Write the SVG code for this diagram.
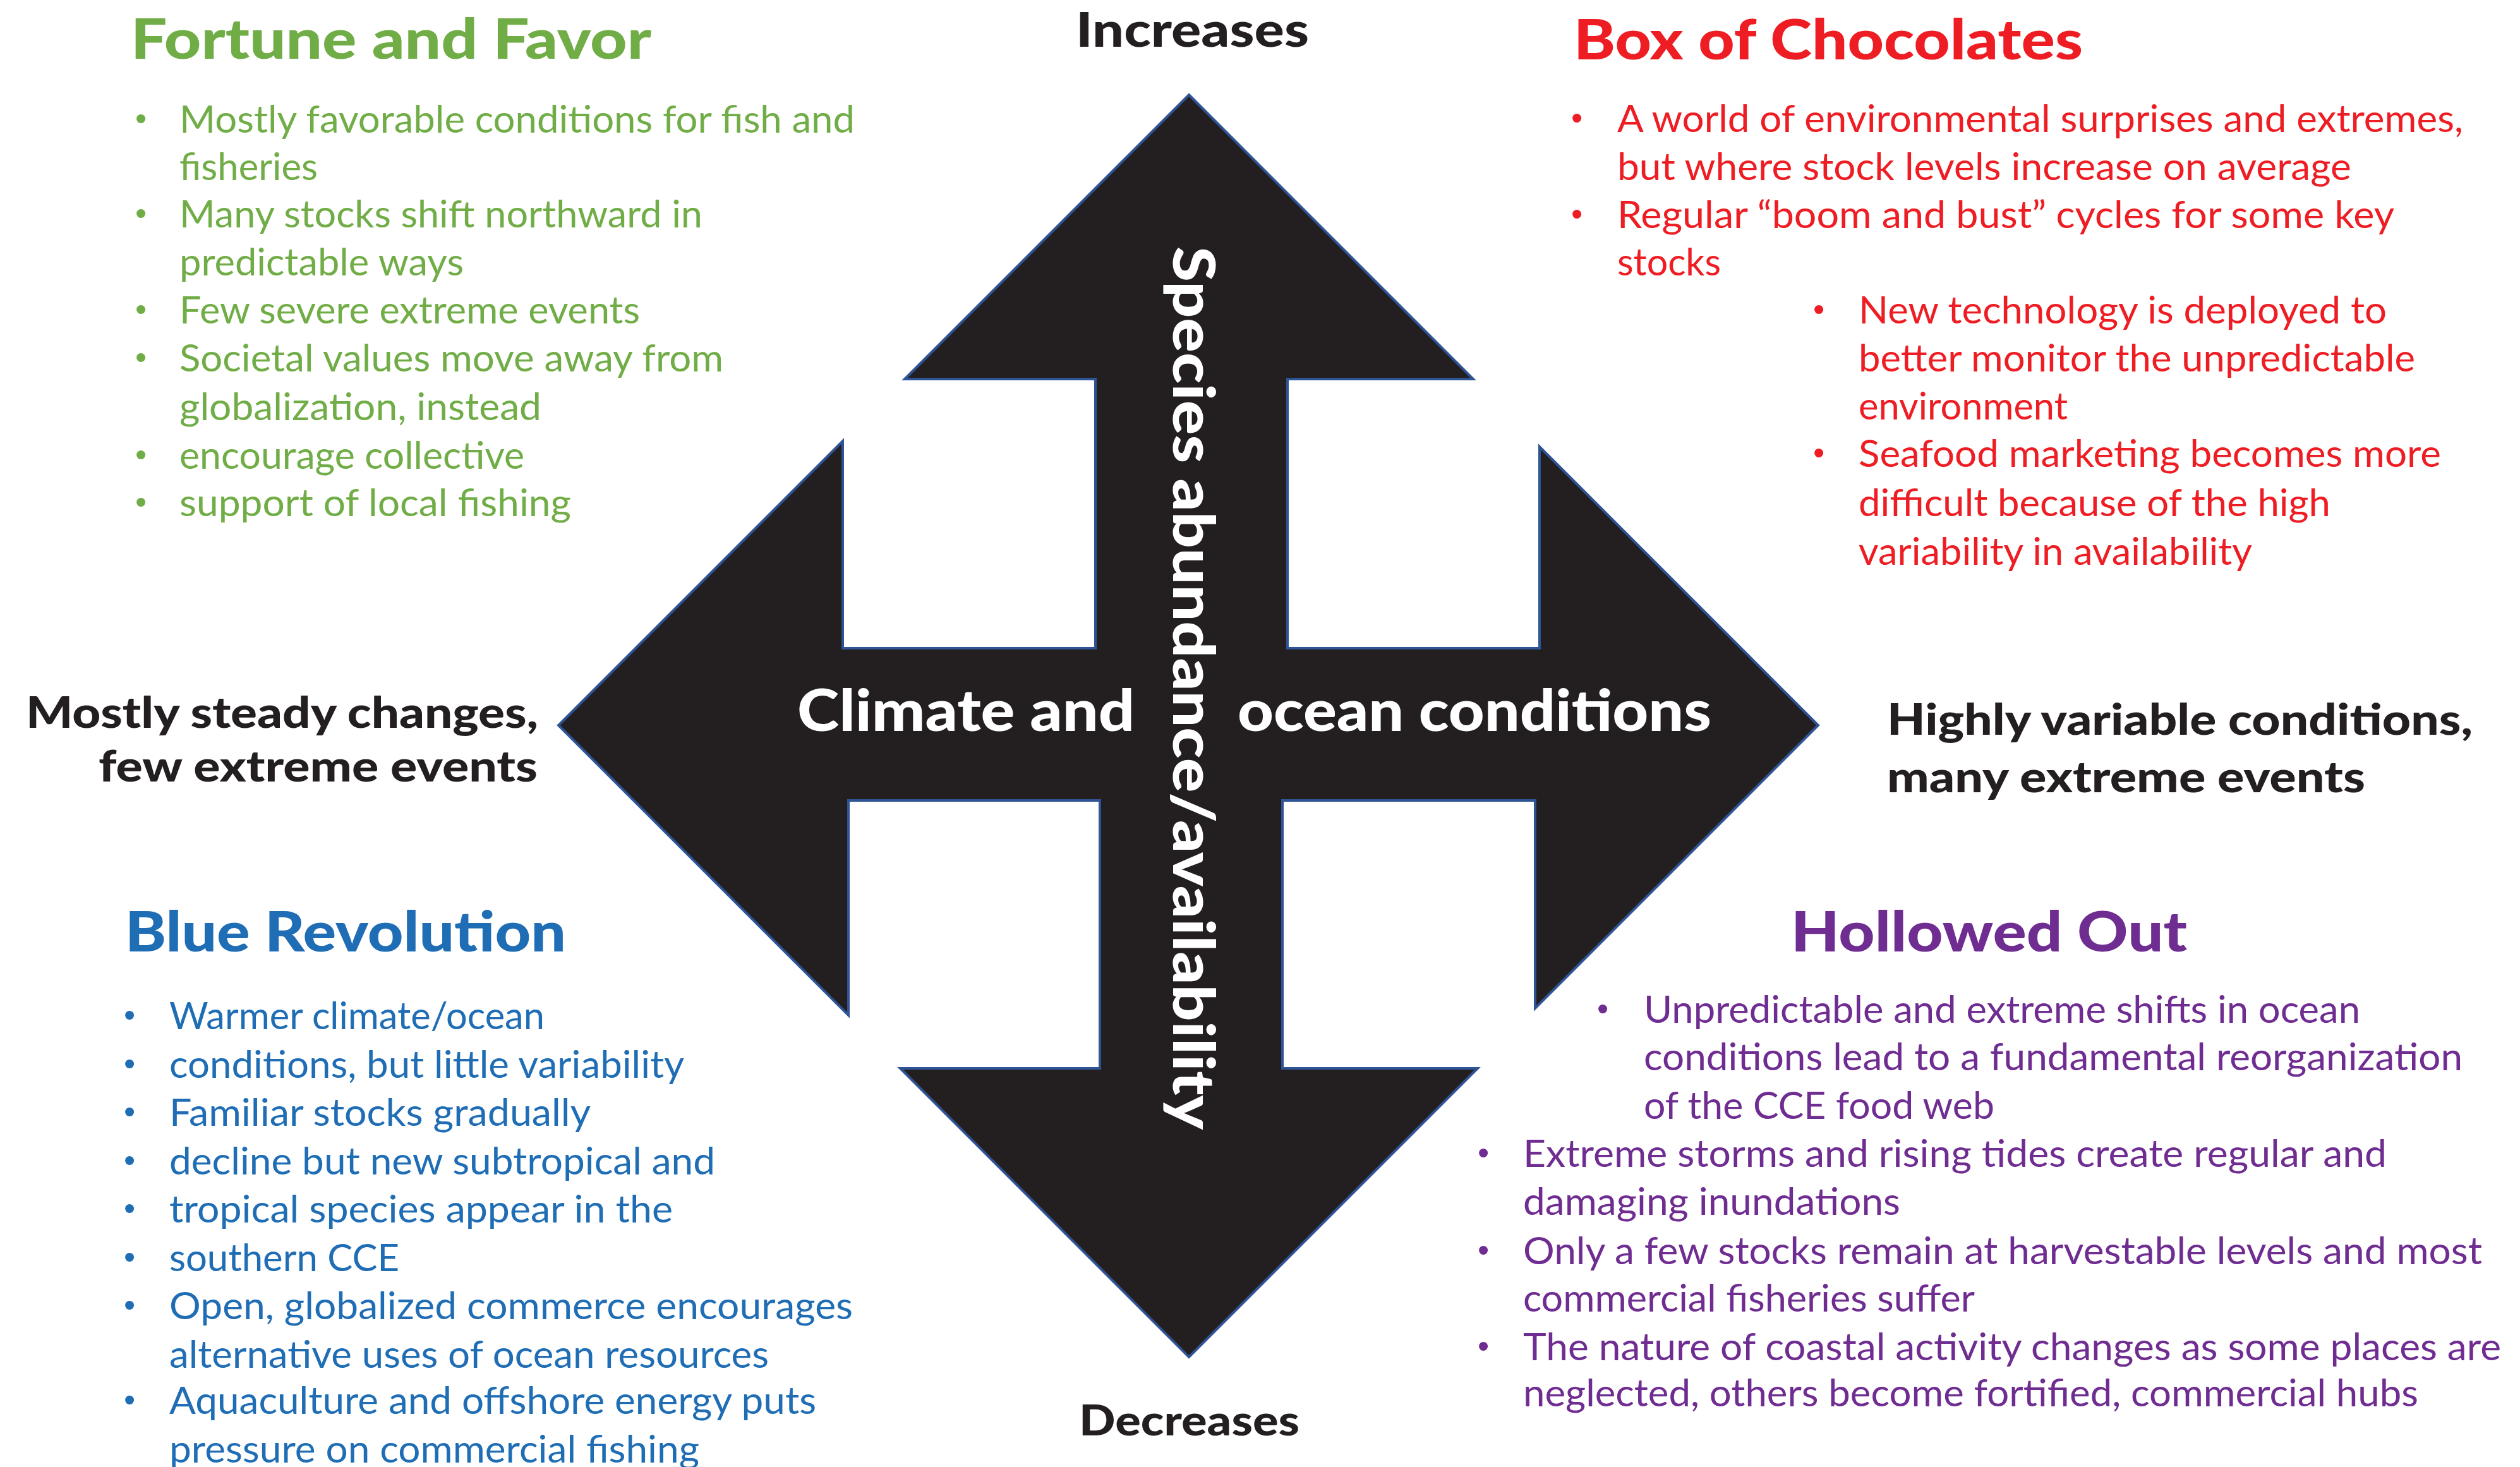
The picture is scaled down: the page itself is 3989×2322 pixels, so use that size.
<svg xmlns="http://www.w3.org/2000/svg" width="3989" height="2322" viewBox="0 0 3989 2322">
<style>
.bg{fill:#ffffff}
.arrow{fill:#231F20;stroke:#2F5496;stroke-width:4;stroke-linejoin:miter}
.title{font-family:Lato,"Open Sans","Liberation Sans",sans-serif;font-weight:900;font-size:88px}
.body{font-family:Lato,"Open Sans","Liberation Sans",sans-serif;font-weight:400;font-size:60px}
.blt{font-family:"Liberation Sans",sans-serif;font-size:52px;text-anchor:middle}
.lbl{font-family:Lato,"Open Sans","Liberation Sans",sans-serif;font-weight:900;fill:#231F20}
.inner{font-family:Lato,"Open Sans","Liberation Sans",sans-serif;font-weight:900;fill:#ffffff;font-size:92px}
.green{fill:#71AD47}
.red{fill:#EE1D23}
.blue{fill:#1F6DB4}
.purple{fill:#6F2C91}
</style>
<rect class="bg" x="0" y="0" width="3989" height="2322"/>

<g id="cross-arrow">
<polygon class="arrow" points="1882,150 2332,600 2038,600 2038,1026 2437,1026 2437,707 2878,1148 2430,1596 2430,1267 2030,1267 2030,1691 2339,1691 1882,2148 1425,1691 1741,1691 1741,1267 1343,1267 1343,1607 884,1148 1334,698 1334,1026 1734,1026 1734,600 1432,600"/>
<text class="inner" x="1262" y="1157" textLength="534" lengthAdjust="spacingAndGlyphs">Climate and</text>
<text class="inner" x="1959" y="1157" textLength="750" lengthAdjust="spacingAndGlyphs">ocean conditions</text>
<text class="inner" transform="translate(1857,390) rotate(90)" x="0" y="0" textLength="1398" lengthAdjust="spacingAndGlyphs">Species abundance/availability</text>
</g>

<g id="axis-labels">
<text id="label-increases" class="lbl" x="1703" y="74" font-size="76" textLength="369" lengthAdjust="spacingAndGlyphs">Increases</text>
<text id="label-decreases" class="lbl" x="1708" y="2272" font-size="66" textLength="349" lengthAdjust="spacingAndGlyphs">Decreases</text>
<g id="label-left">
<text class="lbl" x="41" y="1152" font-size="68" textLength="811" lengthAdjust="spacingAndGlyphs">Mostly steady changes,</text>
<text class="lbl" x="156" y="1237" font-size="68" textLength="695" lengthAdjust="spacingAndGlyphs">few extreme events</text>
</g>
<g id="label-right">
<text class="lbl" x="2987" y="1163" font-size="68" textLength="927" lengthAdjust="spacingAndGlyphs">Highly variable conditions,</text>
<text class="lbl" x="2987" y="1254" font-size="68" textLength="757" lengthAdjust="spacingAndGlyphs">many extreme events</text>
</g>
</g>

<g id="fortune-and-favor" class="green">
<text class="title" x="207" y="93" textLength="824" lengthAdjust="spacingAndGlyphs">Fortune and Favor</text>
<g class="blt">
<text x="223" y="205">•</text><text x="223" y="355">•</text><text x="223" y="507">•</text><text x="223" y="583">•</text><text x="223" y="737">•</text><text x="223" y="812">•</text>
</g>
<g class="body">
<text x="284" y="210" textLength="1069" lengthAdjust="spacingAndGlyphs">Mostly favorable conditions for fish and</text>
<text x="284" y="285" textLength="219" lengthAdjust="spacingAndGlyphs">fisheries</text>
<text x="284" y="360" textLength="828" lengthAdjust="spacingAndGlyphs">Many stocks shift northward in</text>
<text x="284" y="436" textLength="450" lengthAdjust="spacingAndGlyphs">predictable ways</text>
<text x="284" y="512" textLength="729" lengthAdjust="spacingAndGlyphs">Few severe extreme events</text>
<text x="284" y="588" textLength="861" lengthAdjust="spacingAndGlyphs">Societal values move away from</text>
<text x="284" y="665" textLength="573" lengthAdjust="spacingAndGlyphs">globalization, instead</text>
<text x="284" y="742" textLength="546" lengthAdjust="spacingAndGlyphs">encourage collective</text>
<text x="284" y="817" textLength="620" lengthAdjust="spacingAndGlyphs">support of local fishing</text>
</g>
</g>

<g id="box-of-chocolates" class="red">
<text class="title" x="2491" y="94" textLength="806" lengthAdjust="spacingAndGlyphs">Box of Chocolates</text>
<g class="blt">
<text x="2496" y="204">•</text><text x="2496" y="356">•</text><text x="2879" y="507">•</text><text x="2879" y="734">•</text>
</g>
<g class="body">
<text x="2560" y="209" textLength="1339" lengthAdjust="spacingAndGlyphs">A world of environmental surprises and extremes,</text>
<text x="2560" y="285" textLength="1162" lengthAdjust="spacingAndGlyphs">but where stock levels increase on average</text>
<text x="2560" y="361" textLength="1230" lengthAdjust="spacingAndGlyphs">Regular “boom and bust” cycles for some key</text>
<text x="2560" y="436" textLength="164" lengthAdjust="spacingAndGlyphs">stocks</text>
<text x="2942" y="512" textLength="836" lengthAdjust="spacingAndGlyphs">New technology is deployed to</text>
<text x="2942" y="588" textLength="881" lengthAdjust="spacingAndGlyphs">better monitor the unpredictable</text>
<text x="2942" y="664" textLength="331" lengthAdjust="spacingAndGlyphs">environment</text>
<text x="2942" y="739" textLength="922" lengthAdjust="spacingAndGlyphs">Seafood marketing becomes more</text>
<text x="2942" y="817" textLength="747" lengthAdjust="spacingAndGlyphs">difficult because of the high</text>
<text x="2942" y="894" textLength="623" lengthAdjust="spacingAndGlyphs">variability in availability</text>
</g>
</g>

<g id="blue-revolution" class="blue">
<text class="title" x="198" y="1506" font-size="92" textLength="698" lengthAdjust="spacingAndGlyphs">Blue Revolution</text>
<g class="blt">
<text x="205" y="1624">•</text><text x="205" y="1701">•</text><text x="205" y="1777">•</text><text x="205" y="1854">•</text><text x="205" y="1930">•</text><text x="205" y="2007">•</text><text x="205" y="2083">•</text><text x="205" y="2233">•</text>
</g>
<g class="body">
<text x="268" y="1629" textLength="594" lengthAdjust="spacingAndGlyphs">Warmer climate/ocean</text>
<text x="268" y="1706" textLength="815" lengthAdjust="spacingAndGlyphs">conditions, but little variability</text>
<text x="268" y="1782" textLength="667" lengthAdjust="spacingAndGlyphs">Familiar stocks gradually</text>
<text x="268" y="1859" textLength="864" lengthAdjust="spacingAndGlyphs">decline but new subtropical and</text>
<text x="268" y="1935" textLength="797" lengthAdjust="spacingAndGlyphs">tropical species appear in the</text>
<text x="268" y="2012" textLength="364" lengthAdjust="spacingAndGlyphs">southern CCE</text>
<text x="268" y="2088" textLength="1082" lengthAdjust="spacingAndGlyphs">Open, globalized commerce encourages</text>
<text x="268" y="2165" textLength="949" lengthAdjust="spacingAndGlyphs">alternative uses of ocean resources</text>
<text x="268" y="2238" textLength="1024" lengthAdjust="spacingAndGlyphs">Aquaculture and offshore energy puts</text>
<text x="268" y="2315" textLength="839" lengthAdjust="spacingAndGlyphs">pressure on commercial fishing</text>
</g>
</g>

<g id="hollowed-out" class="purple">
<text class="title" x="2835" y="1506" font-size="92" textLength="627" lengthAdjust="spacingAndGlyphs">Hollowed Out</text>
<g class="blt">
<text x="2537" y="1614">•</text><text x="2348" y="1842">•</text><text x="2348" y="1996">•</text><text x="2348" y="2148">•</text>
</g>
<g class="body">
<text x="2602" y="1619" textLength="1134" lengthAdjust="spacingAndGlyphs">Unpredictable and extreme shifts in ocean</text>
<text x="2602" y="1694" textLength="1296" lengthAdjust="spacingAndGlyphs">conditions lead to a fundamental reorganization</text>
<text x="2602" y="1771" textLength="555" lengthAdjust="spacingAndGlyphs">of the CCE food web</text>
<text x="2411" y="1847" textLength="1367" lengthAdjust="spacingAndGlyphs">Extreme storms and rising tides create regular and</text>
<text x="2411" y="1923" textLength="597" lengthAdjust="spacingAndGlyphs">damaging inundations</text>
<text x="2411" y="2001" textLength="1518" lengthAdjust="spacingAndGlyphs">Only a few stocks remain at harvestable levels and most</text>
<text x="2411" y="2076" textLength="715" lengthAdjust="spacingAndGlyphs">commercial fisheries suffer</text>
<text x="2411" y="2153" textLength="1548" lengthAdjust="spacingAndGlyphs">The nature of coastal activity changes as some places are</text>
<text x="2411" y="2226" textLength="1417" lengthAdjust="spacingAndGlyphs">neglected, others become fortified, commercial hubs</text>
</g>
</g>
</svg>
